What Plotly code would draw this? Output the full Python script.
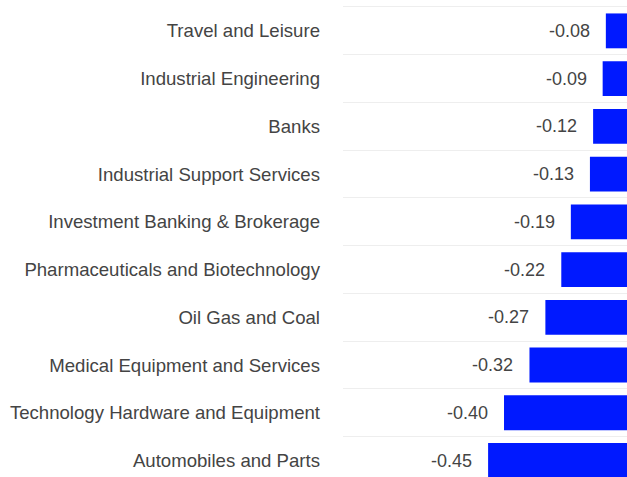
import plotly.graph_objects as go

categories = [
    "Travel and Leisure",
    "Industrial Engineering",
    "Banks",
    "Industrial Support Services",
    "Investment Banking & Brokerage",
    "Pharmaceuticals and Biotechnology",
    "Oil Gas and Coal",
    "Medical Equipment and Services",
    "Technology Hardware and Equipment",
    "Automobiles and Parts",
]
values = [-0.08, -0.09, -0.12, -0.13, -0.19, -0.22, -0.27, -0.32, -0.40, -0.45]

FONT = "Liberation Sans, Arial, sans-serif"

fig = go.Figure(
    go.Bar(
        x=values,
        y=categories,
        orientation="h",
        marker=dict(color="#0019FF", line=dict(width=0)),
        width=0.73,
        hoverinfo="skip",
    )
)

for v, c in zip(values, categories):
    fig.add_annotation(
        x=v, y=c, text=f"{v:.2f}", showarrow=False,
        xanchor="right", yanchor="middle", xshift=-14,
        font=dict(family=FONT, size=18, color="#444444"),
    )

fig.update_layout(
    width=627,
    height=477,
    margin=dict(l=343, r=0, t=7, b=0),
    paper_bgcolor="white",
    plot_bgcolor="white",
    showlegend=False,
    font=dict(family=FONT, size=18, color="#444444"),
    xaxis=dict(
        range=[-0.906, -0.0135],
        side="top",
        showgrid=False,
        zeroline=False,
        showticklabels=False,
        showline=True,
        linecolor="#eeeeee",
        linewidth=1,
        ticks="",
    ),
    yaxis=dict(
        type="category",
        range=[9.345, -0.5],
        tickson="boundaries",
        showgrid=True,
        gridcolor="#eeeeee",
        gridwidth=1,
        ticks="",
        ticklabelstandoff=22,
        showline=False,
        zeroline=False,
        automargin=False,
        tickfont=dict(family=FONT, size=18.6, color="#444444"),
    ),
)

fig.write_html(
    "out.html",
    config={"displayModeBar": False},
    post_script="document.body.style.margin='0';document.body.style.overflow='hidden';",
)
